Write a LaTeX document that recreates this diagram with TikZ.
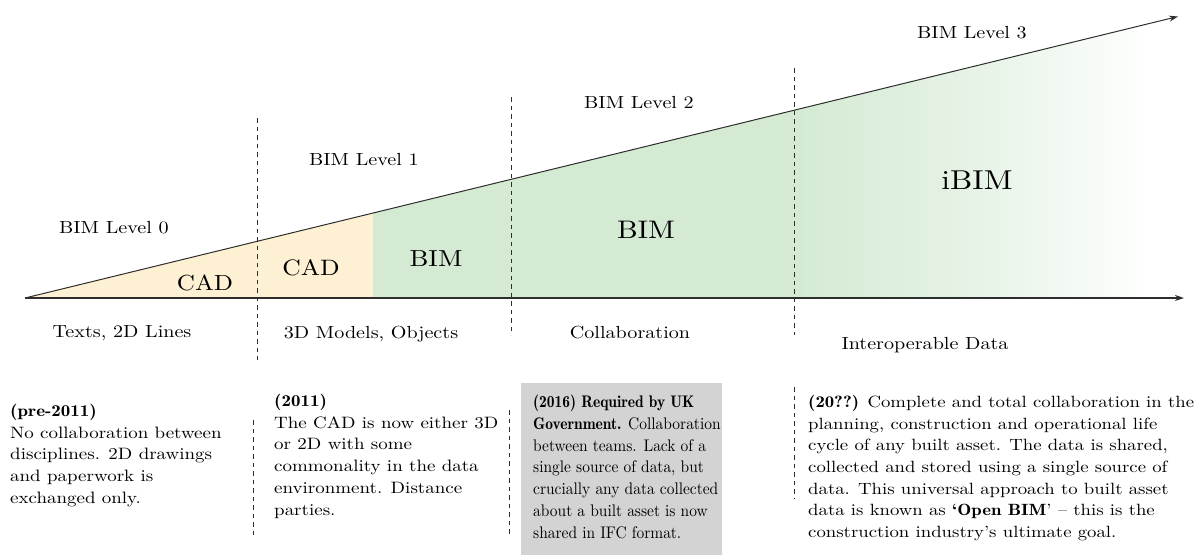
\documentclass[tikz,border=0pt]{standalone}
\usepackage{fontspec}
\setmainfont{lmroman10-regular}[Extension=.otf, BoldFont=lmromandemi10-regular, ItalicFont=lmroman10-italic, FakeStretch=1.15]
\newfontfamily\narrowfont{lmroman10-regular}[Extension=.otf, BoldFont=lmromandemi10-regular, ItalicFont=lmroman10-italic, FakeStretch=0.92]
\usetikzlibrary{arrows.meta}
\definecolor{cadfill}{HTML}{FDF0D3}
\definecolor{bimfill}{HTML}{D4EAD3}
\definecolor{boxgray}{HTML}{D3D3D3}
\definecolor{inkgray}{HTML}{2E2E2E}
\tikzset{
  lbl/.style={inner sep=0pt, text=black, font=\fontsize{17.5}{20}\selectfont},
  biglbl/.style={inner sep=0pt, text=black},
  body/.style={inner sep=0pt, anchor=north west, align=left, text=black,
    font=\fontsize{16.5}{21.7}\selectfont},
  sepline/.style={draw=inkgray, line width=1pt, dash pattern=on 4.5pt off 4pt},
  axisline/.style={draw=inkgray, line width=1.3pt, -{Stealth[length=9pt,width=6pt]}},
  slopeline/.style={draw=inkgray, line width=1pt, -{Stealth[length=9pt,width=6pt]}}
}
\begin{document}
\begin{tikzpicture}[x=1pt,y=-1pt]
\useasboundingbox (0,0) rectangle (1199,555);
% key coordinates
\coordinate (O) at (25,298);
\coordinate (Xend) at (1184,298);
\coordinate (Uend) at (1178,16.5);
% fills
\fill[cadfill] (25,298) -- (373,212.9) -- (373,298) -- cycle;
\fill[bimfill] (373,212.9) -- (793,110.2) -- (793,298) -- (373,298) -- cycle;
\shade[left color=bimfill, right color=white!94!bimfill, middle color=bimfill!60!white] (793,110.2) -- (1137,26.1) -- (1137,298) -- (793,298) -- cycle;
% gray box
\fill[boxgray] (521,383) rectangle (722,555);
% axes
\draw[slopeline] (O) -- (Uend);
\draw[axisline] (O) -- (Xend);
% dashed separators
\coordinate (d1t) at (257,118); \coordinate (d1b) at (257,360);
\coordinate (d2t) at (511,97);  \coordinate (d2b) at (511,335);
\coordinate (d3t) at (794,68);  \coordinate (d3b) at (794,335);
\coordinate (e1t) at (253,420); \coordinate (e1b) at (253,537);
\coordinate (e2t) at (509,410); \coordinate (e2b) at (509,534);
\coordinate (e3t) at (794,387); \coordinate (e3b) at (794,498);
\draw[sepline] (d1t) -- (d1b);
\draw[sepline] (d2t) -- (d2b);
\draw[sepline] (d3t) -- (d3b);
\draw[sepline] (e1t) -- (e1b);
\draw[sepline] (e2t) -- (e2b);
\draw[sepline] (e3t) -- (e3b);
% level labels
\node[lbl] (lv0) at (114,228) {BIM Level 0};
\node[lbl] (lv1) at (364,160) {BIM Level 1};
\node[lbl] (lv2) at (639,103) {BIM Level 2};
\node[lbl] (lv3) at (972,33) {BIM Level 3};
% region labels
\node[biglbl, font=\fontsize{21.8}{24}\selectfont] (cad1) at (205,283) {CAD};
\node[biglbl, font=\fontsize{22.3}{25}\selectfont] (cad2) at (311,268) {CAD};
\node[biglbl, font=\fontsize{23.2}{26}\selectfont] (bim1) at (436,259) {BIM};
\node[biglbl, font=\fontsize{25.4}{28}\selectfont] (bim2) at (646,230) {BIM};
\node[biglbl, font=\fontsize{27.3}{30}\selectfont] (ibim) at (977,180) {iBIM};
% axis labels
\node[lbl] (ax1) at (122,333) {Texts, 2D Lines};
\node[lbl] (ax2) at (371,334) {3D Models, Objects};
\node[lbl] (ax3) at (630,333) {Collaboration};
\node[lbl] (ax4) at (925,345) {Interoperable Data};
% text blocks
\node[body] (t1) at (10,404) {\textbf{(pre-2011)}\\No collaboration between\\disciplines. 2D drawings\\and paperwork is\\exchanged only.};
\node[body] (t2) at (274,394) {\textbf{(2011)}\\The CAD is now either 3D\\or 2D with some\\commonality in the data\\environment. Distance\\parties.};
\node[body, font=\narrowfont\fontsize{16.8}{21.7}\selectfont] (t3) at (533,395) {\textbf{(2016) Required by UK}\\\textbf{Government.} Collaboration\\between teams. Lack of a\\single source of data, but\\crucially any data collected\\about a built asset is now\\shared in IFC format.};
\node[body, font=\fontsize{16.3}{21.7}\selectfont] (t4) at (808,395) {\textbf{(20??)} Complete and total collaboration in the\\planning, construction and operational life\\cycle of any built asset. The data is shared,\\collected and stored using a single source of\\data. This universal approach to built asset\\data is known as \textbf{‘Open BIM}’ – this is the\\construction industry’s ultimate goal.};
\end{tikzpicture}
\end{document}
